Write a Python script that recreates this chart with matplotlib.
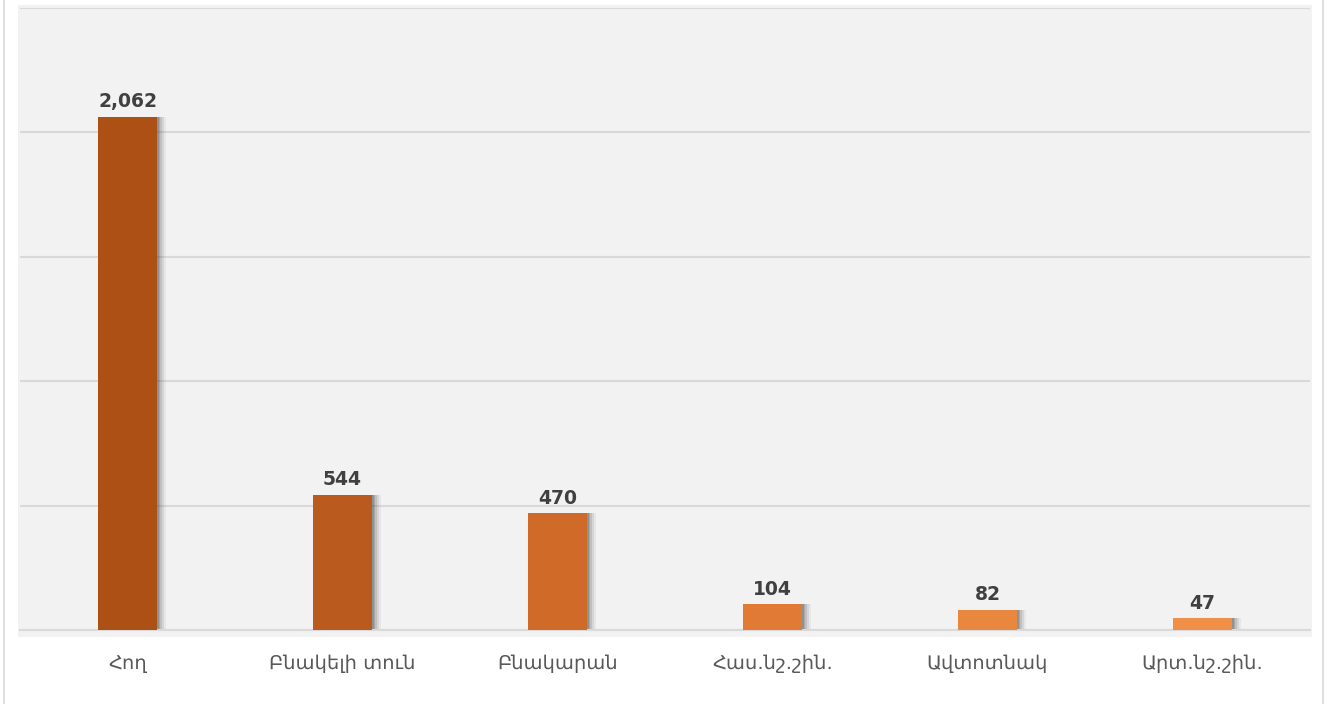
import matplotlib
matplotlib.use("Agg")
import matplotlib.pyplot as plt
from matplotlib.patches import Rectangle

categories = ["Հող", "Բնակելի տուն", "Բնակարան", "Հաս.նշ.շին.", "Ավտոտնակ", "Արտ.նշ.շին."]
values = [2062, 544, 470, 104, 82, 47]
colors = ["#ac5016", "#bb5a1f", "#cf6a29", "#e07a34", "#ea873f", "#f09048"]

plt.rcParams['font.family'] = ['DejaVu Sans']

W, H = 1328, 704
fig = plt.figure(figsize=(W / 100, H / 100), dpi=100)
fig.patch.set_facecolor("white")

# outer border
fig.add_artist(Rectangle((4 / W, -0.01), (1323 - 4) / W, 1.02, transform=fig.transFigure,
                         facecolor="white", edgecolor="#d9d9d9", lw=1.2, zorder=0))
# plot background slightly beyond axes
fig.add_artist(Rectangle((18 / W, 1 - 637 / H), (1312 - 18) / W, (637 - 5) / H,
                         transform=fig.transFigure, facecolor="#f2f2f2", edgecolor="none", zorder=0.5))

ax = fig.add_axes([20 / W, 1 - 630 / H, (1310 - 20) / W, (630 - 8) / H])
ax.set_facecolor("none")
ax.set_zorder(1)

x = list(range(len(categories)))
width = 0.27
# soft shadows
for k, off in enumerate([0.01, 0.018, 0.026, 0.034, 0.042]):
    ax.bar([i + off for i in x], values, width=width, color="#404040",
           alpha=0.22 - 0.04 * k, zorder=2, lw=0)
ax.bar(x, values, width=width, color=colors, zorder=3)

for i, v in zip(x, values):
    ax.annotate(f"{v:,}", (i, v), xytext=(0, 4), textcoords="offset points",
                ha="center", va="bottom", fontsize=13.5, fontweight="bold", color="#404040", zorder=4)

ax.set_xlim(-0.5, len(categories) - 0.5)
ax.set_ylim(0, 2500)
ax.set_yticks([0, 500, 1000, 1500, 2000, 2500])
ax.yaxis.grid(True, color="#d9d9d9", lw=1.5)
ax.set_axisbelow(True)
ax.tick_params(axis="y", left=False, labelleft=False)
ax.set_xticks(x)
ax.set_xticklabels(categories, fontsize=14, color="#595959")
ax.tick_params(axis="x", length=0, pad=17)
for s in ["top", "right", "left"]:
    ax.spines[s].set_visible(False)
ax.spines["bottom"].set_color("#d9d9d9")
ax.spines["bottom"].set_linewidth(1.5)

fig.savefig("out.png", dpi=100)
